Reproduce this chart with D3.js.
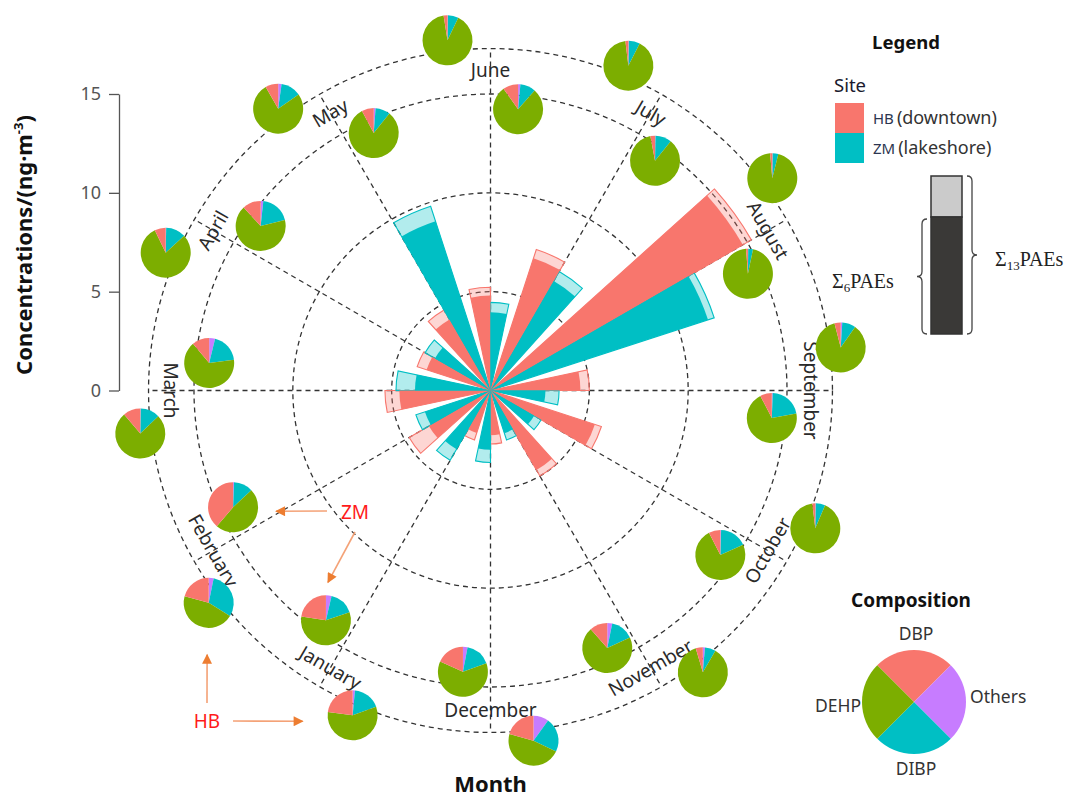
<!DOCTYPE html>
<html>
<head>
<meta charset="utf-8">
<script src="https://cdn.jsdelivr.net/npm/d3@7"></script>
<style>
  body { margin: 0; background: #fff; }
  svg { display: block; }
</style>
</head>
<body>
<svg id="chart" width="1071" height="798"></svg>
<script>
// ---- data ----------------------------------------------------------------
const months = ["January", "February", "March", "April", "May", "June",
                "July", "August", "September", "October", "November", "December"];

// monthly concentrations (ng/m3), HB = downtown site, ZM = lakeshore site
const hbSum6  = [2.26, 3.60, 4.61, 3.40, 4.15, 4.80, 7.04, 14.74, 4.55, 5.55, 4.65, 2.26];
const hbSum13 = [2.63, 4.75, 5.34, 3.90, 4.70, 5.22, 7.50, 15.24, 5.00, 5.90, 5.00, 2.71];
const zmSum6  = [3.43, 3.49, 3.82, 3.25, 9.00, 3.96, 6.40, 11.57, 2.78, 2.55, 2.27, 3.00];
const zmSum13 = [4.08, 3.97, 4.78, 3.82, 9.80, 4.46, 6.95, 11.90, 3.47, 2.96, 2.63, 3.64];

const radialGrid = [5, 10, 15];
const axisTicks = [0, 5, 10, 15];

// composition of each monthly sample (%)
const zmDBP    = [22.5, 38.7, 11.2, 11.9, 7.8, 9.9, 3.0, 1.2, 7.6, 7.5, 11.5, 18.3];
const zmOthers = [3.6, 0.6, 3.8, 1.7, 1.2, 1.5, 0.3, 0.2, 0.6, 0.5, 3.2, 3.0];
const zmDIBP   = [16.1, 12.4, 19.1, 19.4, 9.6, 10.0, 10.5, 3.1, 21.4, 17.8, 14.9, 16.5];
const zmDEHP   = [57.8, 48.3, 65.9, 67.0, 81.4, 78.6, 86.2, 95.5, 70.4, 74.2, 70.4, 62.2];

const hbDBP    = [22.9, 20.8, 11.2, 7.2, 8.3, 2.5, 1.9, 1.4, 4.0, 1.9, 4.6, 20.7];
const hbOthers = [1.5, 3.2, 0.3, 0.3, 2.2, 0.3, 0.3, 0.2, 1.0, 0.3, 1.4, 9.9];
const hbDIBP   = [18.0, 30.6, 12.5, 12.9, 13.1, 6.8, 7.2, 3.7, 8.8, 6.1, 7.0, 22.2];
const hbDEHP   = [57.6, 45.4, 76.0, 79.6, 76.4, 90.4, 90.6, 94.7, 86.2, 91.7, 87.0, 47.2];

const compLegend = ["DBP", "Others", "DIBP", "DEHP"];
const compShare  = [1, 1, 1, 1];

const siteColor = { HB: "#F8766D", ZM: "#00BFC4" };
const partColor = { DBP: "#F8766D", DEHP: "#7CAE00", DIBP: "#00BFC4", Others: "#C77CFF" };

// ---- layout ----------------------------------------------------------------
const deg = Math.PI / 180;
const cx = 490.5, cy = 390.5;
const FONT = "'Noto Sans', 'DejaVu Sans', sans-serif";
const SERIF = "'Liberation Serif', 'DejaVu Serif', serif";

const svg = d3.select("#chart");

const rScale = d3.scaleLinear().domain([0, 15]).range([0, 296.5]);
const outerValue = 17.3;     // outermost grid ring
const labelValue = 16.2;     // ring carrying month names
const zmPieValue = 14.3;     // ring of ZM composition pies
const hbPieValue = 17.85;    // ring of HB composition pies
const monthAngle = d3.scaleLinear().domain([0, 12]).range([-150 * deg, 210 * deg]);
const barSpan = 12 * deg;

const polar = (a, rad) => [Math.sin(a) * rad, -Math.cos(a) * rad];

const plot = svg.append("g").attr("transform", `translate(${cx},${cy})`);

// grid rings
plot.selectAll("circle.grid")
  .data(radialGrid.concat([outerValue]))
  .join("circle")
  .attr("class", "grid")
  .attr("r", d => rScale(d))
  .attr("fill", "none")
  .attr("stroke", "#333")
  .attr("stroke-width", 1.3)
  .attr("stroke-dasharray", "5,4");

// spokes
plot.selectAll("line.spoke")
  .data(months)
  .join("line")
  .attr("class", "spoke")
  .attr("x1", 0).attr("y1", 0)
  .attr("x2", (d, i) => polar(monthAngle(i), rScale(outerValue))[0])
  .attr("y2", (d, i) => polar(monthAngle(i), rScale(outerValue))[1])
  .attr("stroke", "#333")
  .attr("stroke-width", 1.3)
  .attr("stroke-dasharray", "5,4");

// bars
const bars = months.flatMap((m, i) => [
  { site: "HB", a0: monthAngle(i) - barSpan, a1: monthAngle(i), s6: hbSum6[i], s13: hbSum13[i] },
  { site: "ZM", a0: monthAngle(i), a1: monthAngle(i) + barSpan, s6: zmSum6[i], s13: zmSum13[i] }
]);
const arc = d3.arc();

plot.selectAll("path.total")
  .data(bars)
  .join("path")
  .attr("class", "total")
  .attr("d", d => arc({ innerRadius: 0, outerRadius: rScale(d.s13), startAngle: d.a0, endAngle: d.a1 }))
  .attr("fill", d => siteColor[d.site])
  .attr("fill-opacity", 0.3)
  .attr("stroke", d => siteColor[d.site])
  .attr("stroke-width", 1.1);

plot.selectAll("path.six")
  .data(bars)
  .join("path")
  .attr("class", "six")
  .attr("d", d => arc({ innerRadius: 0, outerRadius: rScale(d.s6), startAngle: d.a0, endAngle: d.a1 }))
  .attr("fill", d => siteColor[d.site]);

// month names
plot.selectAll("text.month")
  .data(months)
  .join("text")
  .attr("class", "month")
  .attr("transform", (d, i) => {
    const a = monthAngle(i);
    const [x, y] = polar(a, rScale(labelValue));
    let dg = ((a / deg) % 360 + 360) % 360;
    let rot = dg <= 90 ? dg : (dg <= 270 ? dg - 180 : dg - 360);
    return `translate(${x},${y}) rotate(${rot})`;
  })
  .attr("text-anchor", "middle")
  .attr("dy", "0.35em")
  .attr("font-family", FONT)
  .attr("font-size", 19)
  .attr("fill", "#2a2a2a")
  .text(d => d);

// composition pies
const pieGen = d3.pie().sort(null).value(d => d.v);
const pieArc = d3.arc().innerRadius(0).outerRadius(25);
const pieCenter = (site, i) => site === "ZM"
  ? polar(monthAngle(i) + 5.6 * deg, rScale(zmPieValue))
  : polar(monthAngle(i) - 7 * deg, rScale(hbPieValue));
const comp = (site, i) => site === "ZM"
  ? [{ k: "Others", v: zmOthers[i] }, { k: "DIBP", v: zmDIBP[i] }, { k: "DEHP", v: zmDEHP[i] }, { k: "DBP", v: zmDBP[i] }]
  : [{ k: "Others", v: hbOthers[i] }, { k: "DIBP", v: hbDIBP[i] }, { k: "DEHP", v: hbDEHP[i] }, { k: "DBP", v: hbDBP[i] }];

const pieItems = months.flatMap((m, i) => [{ site: "ZM", i }, { site: "HB", i }]);
const pies = plot.selectAll("g.pie")
  .data(pieItems)
  .join("g")
  .attr("class", "pie")
  .attr("transform", d => `translate(${pieCenter(d.site, d.i)})`);
pies.selectAll("path")
  .data(d => pieGen(comp(d.site, d.i)))
  .join("path")
  .attr("d", pieArc)
  .attr("fill", d => partColor[d.data.k]);

// ---- radial value axis ----------------------------------------------------
const yScale = d3.scaleLinear().domain([0, 15]).range([cy, cy - rScale(15)]);
const yAxis = svg.append("g")
  .attr("transform", "translate(119,0)")
  .call(d3.axisLeft(yScale).tickValues(axisTicks).tickSize(10).tickSizeOuter(0).tickPadding(8));
yAxis.select(".domain").attr("stroke", "#555").attr("stroke-width", 1.3);
yAxis.selectAll(".tick line").attr("stroke", "#555").attr("stroke-width", 1.3);
yAxis.selectAll(".tick text")
  .attr("font-family", FONT).attr("font-size", 18).attr("fill", "#555");

const yTitle = svg.append("text")
  .attr("transform", "translate(32,245) rotate(-90)")
  .attr("text-anchor", "middle")
  .attr("font-family", FONT)
  .attr("font-weight", "bold")
  .attr("font-size", 22)
  .attr("fill", "#111");
yTitle.append("tspan").text("Concentrations/(ng·m");
yTitle.append("tspan").attr("font-size", 13).attr("dy", -9).text("-3");
yTitle.append("tspan").attr("dy", 9).text(")");

svg.append("text")
  .attr("x", cx).attr("y", 792)
  .attr("text-anchor", "middle")
  .attr("font-family", FONT).attr("font-weight", "bold").attr("font-size", 22)
  .attr("fill", "#111")
  .text("Month");

// ---- site call-outs ---------------------------------------------------------
svg.append("defs").append("marker")
  .attr("id", "head")
  .attr("viewBox", "0 0 10 10")
  .attr("refX", 9).attr("refY", 5)
  .attr("markerWidth", 11).attr("markerHeight", 10)
  .attr("markerUnits", "userSpaceOnUse")
  .attr("orient", "auto")
  .append("path").attr("d", "M0,0 L10,5 L0,10 Z").attr("fill", "#ED7D31");

const at = (site, i, dx, dy) => {
  const [x, y] = pieCenter(site, i);
  return [cx + x + dx, cy + y + dy];
};
const callouts = [
  { from: [327, 511], to: at("ZM", 1, 43, 4) },
  { from: [355, 532], to: at("ZM", 0, 2, -38) },
  { from: [207, 703], to: at("HB", 1, -1.6, 52) },
  { from: [233, 721], to: at("HB", 0, -50, 6) }
];
svg.selectAll("line.callout")
  .data(callouts)
  .join("line")
  .attr("class", "callout")
  .attr("x1", d => d.from[0]).attr("y1", d => d.from[1])
  .attr("x2", d => d.to[0]).attr("y2", d => d.to[1])
  .attr("stroke", "#F4A277").attr("stroke-width", 1.6)
  .attr("marker-end", "url(#head)");

svg.append("text").attr("x", 355).attr("y", 519).attr("text-anchor", "middle")
  .attr("font-family", FONT).attr("font-size", 19).attr("fill", "#FF1A1A").text("ZM");
svg.append("text").attr("x", 207).attr("y", 728).attr("text-anchor", "middle")
  .attr("font-family", FONT).attr("font-size", 19).attr("fill", "#FF1A1A").text("HB");

// ---- legend -----------------------------------------------------------------
const lg = svg.append("g");
lg.append("text").attr("x", 906).attr("y", 49).attr("text-anchor", "middle")
  .attr("font-family", FONT).attr("font-weight", "bold").attr("font-size", 18.5)
  .attr("fill", "#111").text("Legend");
lg.append("text").attr("x", 834).attr("y", 92)
  .attr("font-family", FONT).attr("font-size", 18.5).attr("fill", "#1a1a2e").text("Site");

const siteLegend = [
  { site: "HB", desc: "(downtown)" },
  { site: "ZM", desc: "(lakeshore)" }
];
const sl = lg.selectAll("g.site")
  .data(siteLegend)
  .join("g")
  .attr("class", "site")
  .attr("transform", (d, i) => `translate(835,${103 + i * 30})`);
sl.append("rect").attr("width", 29).attr("height", 30).attr("fill", d => siteColor[d.site]);
const st = sl.append("text").attr("x", 38).attr("y", 21)
  .attr("font-family", FONT).attr("fill", "#333");
st.append("tspan").attr("font-size", 15).attr("fill", "#2c3550").text(d => d.site);
st.append("tspan").attr("font-size", 18).attr("dx", 3).text(d => d.desc);

// stacked bar key
lg.append("rect").attr("x", 931).attr("y", 176).attr("width", 31).attr("height", 41)
  .attr("fill", "#CBCBCB").attr("stroke", "#333").attr("stroke-width", 1.5);
lg.append("rect").attr("x", 931).attr("y", 217).attr("width", 31).attr("height", 117)
  .attr("fill", "#3A3937").attr("stroke", "#333").attr("stroke-width", 1.5);

function brace(x, y1, y2, d, w) {
  const ym = (y1 + y2) / 2;
  const xm = x + d * w;
  return `M${x},${y1} Q${xm},${y1} ${xm},${y1 + w} L${xm},${ym - w} Q${xm},${ym} ${x + 2 * d * w},${ym}` +
         ` Q${xm},${ym} ${xm},${ym + w} L${xm},${y2 - w} Q${xm},${y2} ${x},${y2}`;
}
lg.append("path").attr("d", brace(967, 176, 334, 1, 5))
  .attr("fill", "none").attr("stroke", "#444").attr("stroke-width", 1.3);
lg.append("path").attr("d", brace(927, 219, 334, -1, 5))
  .attr("fill", "none").attr("stroke", "#444").attr("stroke-width", 1.3);

const s13 = lg.append("text").attr("x", 995).attr("y", 266)
  .attr("font-family", SERIF).attr("font-size", 20).attr("fill", "#222");
s13.append("tspan").text("Σ");
s13.append("tspan").attr("font-size", 13).attr("dy", 4).text("13");
s13.append("tspan").attr("dy", -4).text("PAEs");

const s6 = lg.append("text").attr("x", 832).attr("y", 288)
  .attr("font-family", SERIF).attr("font-size", 20).attr("fill", "#222");
s6.append("tspan").text("Σ");
s6.append("tspan").attr("font-size", 13).attr("dy", 4).text("6");
s6.append("tspan").attr("dy", -4).text("PAEs");

// composition key
lg.append("text").attr("x", 911).attr("y", 607).attr("text-anchor", "middle")
  .attr("font-family", FONT).attr("font-weight", "bold").attr("font-size", 19)
  .attr("fill", "#111").text("Composition");

const keyPie = d3.pie().sort(null).startAngle(-45 * deg).endAngle(315 * deg);
const keyArc = d3.arc().innerRadius(0).outerRadius(52);
lg.append("g").attr("transform", "translate(914,702)")
  .selectAll("path")
  .data(keyPie(compShare))
  .join("path")
  .attr("d", keyArc)
  .attr("fill", (d, i) => partColor[compLegend[i]]);

const keyLabels = [
  { t: "DBP", x: 916, y: 640, anchor: "middle" },
  { t: "Others", x: 970, y: 703, anchor: "start" },
  { t: "DIBP", x: 916, y: 775, anchor: "middle" },
  { t: "DEHP", x: 861, y: 712, anchor: "end" }
];
lg.selectAll("text.key")
  .data(keyLabels)
  .join("text")
  .attr("class", "key")
  .attr("x", d => d.x).attr("y", d => d.y)
  .attr("text-anchor", d => d.anchor)
  .attr("font-family", FONT).attr("font-size", 17.5)
  .attr("fill", "#333")
  .text(d => d.t);
</script>
</body>
</html>
